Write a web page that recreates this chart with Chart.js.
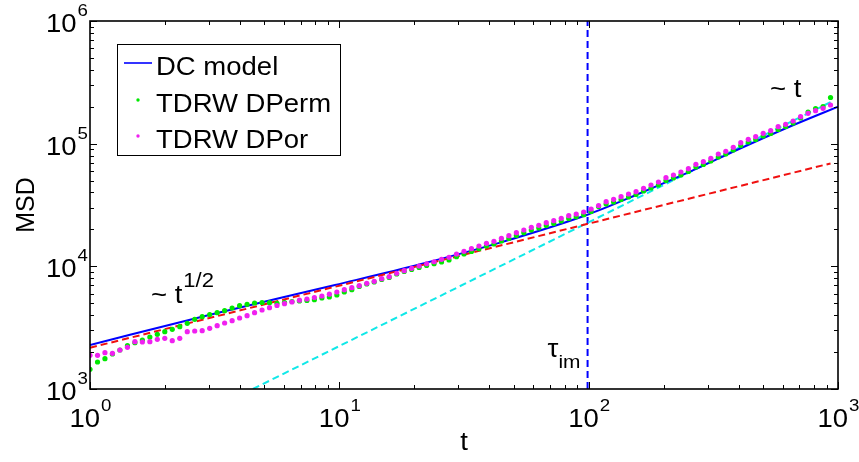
<!DOCTYPE html>
<html>
<head>
<meta charset="utf-8">
<script src="https://cdn.jsdelivr.net/npm/chart.js@4.4.0/dist/chart.umd.min.js"></script>
<style>
  html, body { margin: 0; padding: 0; background: #fff; }
</style>
</head>
<body>
<canvas id="msdChart" width="859" height="462"></canvas>
<script>
// time grid of the random-walk runs (log spaced)
const tGrid = [
  1, 1.072, 1.148, 1.23, 1.318, 1.413, 1.514, 1.622, 1.738, 1.862,
  1.995, 2.138, 2.291, 2.455, 2.63, 2.818, 3.02, 3.236, 3.467, 3.715,
  3.981, 4.266, 4.571, 4.898, 5.248, 5.623, 6.026, 6.457, 6.918, 7.413,
  7.943, 8.511, 9.12, 9.772, 10.47, 11.22, 12.02, 12.88, 13.8, 14.79,
  15.85, 16.98, 18.2, 19.5, 20.89, 22.39, 23.99, 25.7, 27.54, 29.51,
  31.62, 33.88, 36.31, 38.9, 41.69, 44.67, 47.86, 51.29, 54.95, 58.88,
  63.1, 67.61, 72.44, 77.62, 83.18, 89.13, 95.5, 102.3, 109.6, 117.5,
  125.9, 134.9, 144.5, 154.9, 166, 177.8, 190.5, 204.2, 218.8, 234.4,
  251.2, 269.2, 288.4, 309, 331.1, 354.8, 380.2, 407.4, 436.5, 467.7,
  501.2, 537, 575.4, 616.6, 660.7, 707.9, 758.6, 812.8, 871, 933.3
];

const dpermMSD = [
  1447, 1660, 1766, 1929, 2079, 2254, 2385, 2508, 2654, 2792,
  2932, 3067, 3220, 3432, 3700, 3886, 4049, 4188, 4348, 4574,
  4776, 4903, 5024, 5072, 5052, 4996, 5072, 5168, 5217, 5266,
  5346, 5519, 5623, 5838, 6177, 6450, 6862, 7178, 7454, 7824,
  8125, 8660, 9076, 9424, 9783, 10160, 10500, 10850, 11260, 11980,
  12610, 13240, 13920, 14650, 15210, 16090, 16900, 17880, 18800, 19780,
  20540, 21570, 22390, 23410, 24590, 25390, 26360, 27990, 30740, 32230,
  33450, 35060, 36740, 38510, 41130, 43510, 46030, 50090, 52490, 55520,
  59310, 64520, 67630, 72230, 77860, 82350, 88780, 96610, 103200, 108100,
  115500, 121000, 130500, 138000, 147400, 161900, 181200, 193500, 200900, 237900
];

const dporMSD = [
  1883, 1883, 1976, 1954, 2079, 2187, 2430, 2416, 2430, 2542,
  2590, 2476, 2590, 2932, 2971, 2988, 3125, 3281, 3451, 3604,
  3791, 3958, 4188, 4406, 4600, 4794, 4959, 5119, 5296, 5417,
  5571, 5730, 5927, 6177, 6450, 6697, 6953, 7273, 7551, 7928,
  8232, 8774, 9213, 9638, 10060, 10500, 10900, 11410, 11850, 12610,
  13260, 13920, 14650, 15410, 16000, 16930, 17770, 18800, 19780, 20810,
  21610, 22690, 23550, 24640, 25860, 26710, 27730, 29340, 31330, 33640,
  35190, 36940, 38870, 40590, 43260, 46030, 48700, 52780, 55520, 58750,
  62500, 67890, 71290, 75980, 82350, 86630, 93400, 101800, 108500, 114000,
  121500, 127600, 137500, 143800, 153000, 165900, 176800, 185600, 194200, 206700
];

// DC model curve
const dcT = [1, 3.03, 9.61, 21.1, 44.1, 98.2, 160.7, 255, 405, 642, 1000];
const dcMSD = [2284, 4034, 7044, 10390, 15600, 26210, 39400, 59080, 91300, 138000, 200100];

// asymptotes: ~t^(1/2) and ~t
const halfT = [1, 933.3];
const halfMSD = [2170, 69000];
const linT = [4.5, 933.3];
const linMSD = [1000, 218000];

const tauIm = 99;

const xDecades = [0, 1, 2, 3];
const yDecades = [3, 4, 5, 6];

const BLUE = '#0000ff';
const GREEN = '#00e800';
const MAGENTA = '#f020f0';
const RED = '#f01010';
const CYAN = '#10e8e8';
const FONT = '"Liberation Sans", Arial, Helvetica, sans-serif';
const SX = 1.1; // text is a bit wide in this figure

const pts = (xs, ys) => xs.map((x, i) => ({ x: x, y: ys[i] }));

function wideText(ctx, str, x, y, size, align) {
  ctx.font = size + 'px ' + FONT;
  const w = ctx.measureText(str).width * SX;
  let x0 = x;
  if (align === 'center') x0 = x - w / 2;
  if (align === 'right') x0 = x - w;
  ctx.save();
  ctx.translate(x0, y);
  ctx.scale(SX, 1);
  ctx.textAlign = 'left';
  ctx.textBaseline = 'alphabetic';
  ctx.fillText(str, 0, 0);
  ctx.restore();
  return w;
}

function textWidth(ctx, str, size) {
  ctx.font = size + 'px ' + FONT;
  return ctx.measureText(str).width * SX;
}

// "10" with a raised exponent
function powLabel(ctx, exp, x, y, align) {
  const wb = textWidth(ctx, '10', 25);
  const we = textWidth(ctx, String(exp), 17);
  let x0 = x;
  if (align === 'center') x0 = x - (wb + we) / 2;
  if (align === 'right') x0 = x - (wb + we);
  wideText(ctx, '10', x0, y, 25, 'left');
  wideText(ctx, String(exp), x0 + wb + 1, y - 16, 17, 'left');
}

const frame = {
  id: 'frame',
  afterDraw(chart) {
    const { ctx, chartArea: a, scales } = chart;
    const xs = scales.x, ys = scales.y;
    ctx.save();
    ctx.fillStyle = '#000';
    ctx.strokeStyle = '#000';

    // axes box
    ctx.lineWidth = 1.6;
    ctx.strokeRect(a.left, a.top, a.right - a.left, a.bottom - a.top);

    // ticks point inward on all four sides
    ctx.lineWidth = 1;
    ctx.beginPath();
    xDecades.forEach((d, i) => {
      const base = Math.pow(10, d);
      const px = Math.round(xs.getPixelForValue(base)) + 0.5;
      ctx.moveTo(px, a.bottom); ctx.lineTo(px, a.bottom - 7);
      ctx.moveTo(px, a.top); ctx.lineTo(px, a.top + 7);
      if (i < xDecades.length - 1) {
        for (let m = 2; m <= 9; m++) {
          const p = Math.round(xs.getPixelForValue(m * base)) + 0.5;
          ctx.moveTo(p, a.bottom); ctx.lineTo(p, a.bottom - 4);
          ctx.moveTo(p, a.top); ctx.lineTo(p, a.top + 4);
        }
      }
    });
    yDecades.forEach((d, i) => {
      const base = Math.pow(10, d);
      const py = Math.round(ys.getPixelForValue(base)) + 0.5;
      ctx.moveTo(a.left, py); ctx.lineTo(a.left + 7, py);
      ctx.moveTo(a.right, py); ctx.lineTo(a.right - 7, py);
      if (i < yDecades.length - 1) {
        for (let m = 2; m <= 9; m++) {
          const p = Math.round(ys.getPixelForValue(m * base)) + 0.5;
          ctx.moveTo(a.left, p); ctx.lineTo(a.left + 4, p);
          ctx.moveTo(a.right, p); ctx.lineTo(a.right - 4, p);
        }
      }
    });
    ctx.stroke();

    // tick labels
    xDecades.forEach(d => {
      powLabel(ctx, d, xs.getPixelForValue(Math.pow(10, d)), a.bottom + 38, 'center');
    });
    yDecades.forEach(d => {
      powLabel(ctx, d, a.left - 3, ys.getPixelForValue(Math.pow(10, d)) + 11, 'right');
    });

    // axis titles
    wideText(ctx, 't', (a.left + a.right) / 2, 450, 25, 'center');
    ctx.save();
    ctx.translate(34, (a.top + a.bottom) / 2);
    ctx.rotate(-Math.PI / 2);
    ctx.font = '25px ' + FONT;
    ctx.textAlign = 'center';
    ctx.textBaseline = 'alphabetic';
    ctx.fillText('MSD', 0, 0);
    ctx.restore();

    // scaling annotations
    let w = wideText(ctx, '~ t', 151, 303, 25, 'left');
    wideText(ctx, '1/2', 151 + w + 1, 287, 20, 'left');
    wideText(ctx, '~ t', 770, 97, 25, 'left');
    const tx = xs.getPixelForValue(tauIm);
    w = wideText(ctx, '\u03c4', tx - 40, 357, 25, 'left');
    wideText(ctx, 'im', tx - 40 + w, 368, 19, 'left');

    // legend
    const lg = { x: 117.5, y: 44.5, w: 223, h: 111 };
    ctx.fillStyle = '#fff';
    ctx.fillRect(lg.x, lg.y, lg.w, lg.h);
    ctx.lineWidth = 1;
    ctx.strokeRect(lg.x, lg.y, lg.w, lg.h);
    const rows = [63, 100, 136];
    chart.data.datasets.slice(0, 3).forEach((ds, i) => {
      const cy = rows[i];
      if (ds.showLine === false) {
        ctx.fillStyle = ds.pointBackgroundColor;
        ctx.beginPath();
        ctx.arc(138, cy, 1.7, 0, Math.PI * 2);
        ctx.fill();
      } else {
        ctx.strokeStyle = ds.borderColor;
        ctx.lineWidth = 1.6;
        ctx.beginPath();
        ctx.moveTo(124, cy); ctx.lineTo(152, cy);
        ctx.stroke();
      }
      ctx.fillStyle = '#000';
      wideText(ctx, ds.label, 156, cy + 12, 25, 'left');
    });
    ctx.restore();
  }
};

new Chart(document.getElementById('msdChart'), {
  type: 'line',
  data: {
    datasets: [
      {
        label: 'DC model', data: pts(dcT, dcMSD),
        borderColor: BLUE, borderWidth: 2, pointRadius: 0,
        cubicInterpolationMode: 'monotone', order: 4
      },
      {
        label: 'TDRW DPerm', data: pts(tGrid, dpermMSD), showLine: false,
        pointRadius: 2.6, pointBackgroundColor: GREEN, pointBorderWidth: 0,
        pointBorderColor: GREEN, order: 2
      },
      {
        label: 'TDRW DPor', data: pts(tGrid, dporMSD), showLine: false,
        pointRadius: 2.6, pointBackgroundColor: MAGENTA, pointBorderWidth: 0,
        pointBorderColor: MAGENTA, order: 1
      },
      {
        label: 'short time', data: pts(halfT, halfMSD),
        borderColor: RED, borderWidth: 2, borderDash: [7, 4], pointRadius: 0, order: 3
      },
      {
        label: 'long time', data: pts(linT, linMSD),
        borderColor: CYAN, borderWidth: 2, borderDash: [7, 4], pointRadius: 0, order: 5
      },
      {
        label: 'tau_im', data: pts([tauIm, tauIm], [1000, 1000000]),
        borderColor: BLUE, borderWidth: 2, borderDash: [7, 4], pointRadius: 0, order: 6
      }
    ]
  },
  options: {
    responsive: false,
    animation: false,
    layout: { padding: { left: 90, top: 21, right: 21, bottom: 73 } },
    plugins: { legend: { display: false }, tooltip: { enabled: false } },
    scales: {
      x: { type: 'logarithmic', min: 1, max: 1000, display: false },
      y: { type: 'logarithmic', min: 1000, max: 1000000, display: false }
    }
  },
  plugins: [frame]
});
</script>
</body>
</html>
